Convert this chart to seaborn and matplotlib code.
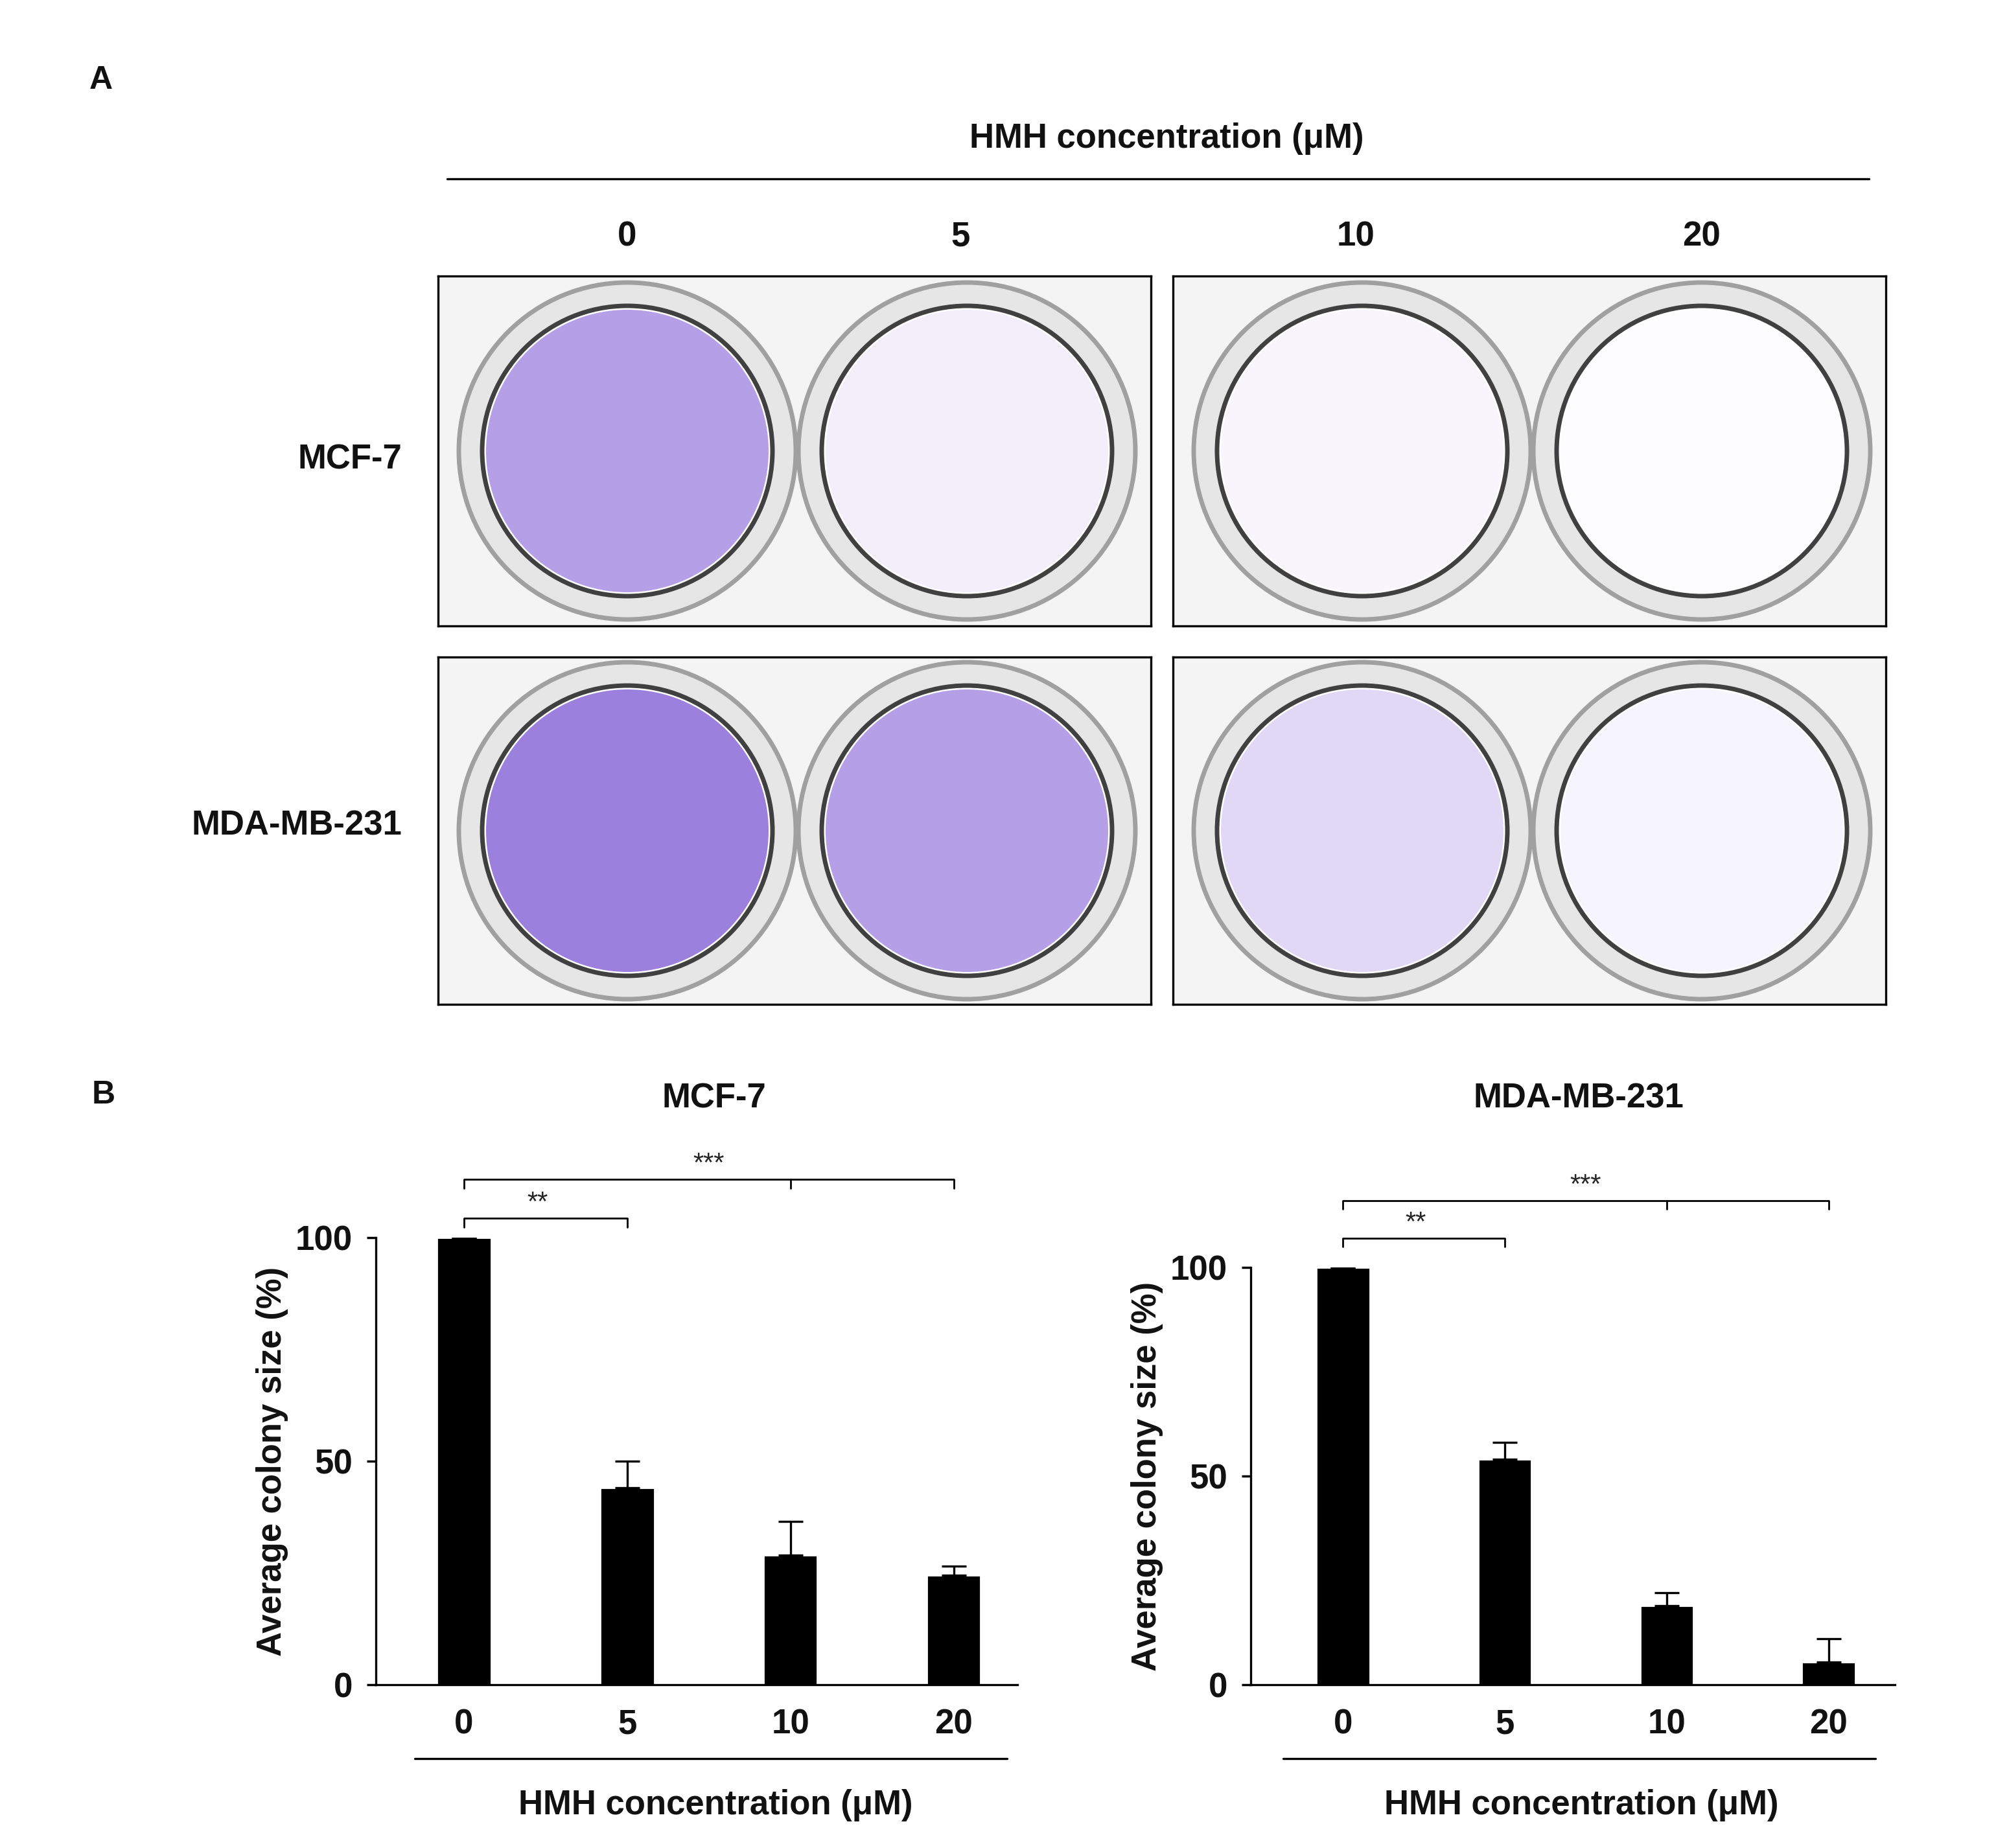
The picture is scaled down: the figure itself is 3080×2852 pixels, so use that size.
import matplotlib
matplotlib.use("Agg")
import matplotlib.pyplot as plt
import seaborn as sns
import pandas as pd
from matplotlib.patches import Circle

sns.set_theme(style="white")
plt.rcParams['font.family'] = ['Arial', 'Liberation Sans', 'DejaVu Sans']

conc = ["0", "5", "10", "20"]
mcf7_mean = [100, 44, 29, 24.5]
mcf7_err = [0, 6, 7.5, 2]
mda_mean = [100, 54, 19, 5.5]
mda_err = [0, 4, 3, 5.5]
# relative stain intensity in the photographed wells (panel A)
mcf7_stain = [0.45, 0.08, 0.04, 0.01]
mda_stain = [0.6, 0.45, 0.18, 0.05]

W, H = 1540, 1426
fig = plt.figure(figsize=(15.4, 14.26), dpi=200)

def fx(x): return x / W
def fy(y): return 1 - y / H

def txt(x, y, s, size=18, ha="center", **kw):
    fig.text(fx(x), fy(y), s, ha=ha, va="center", fontsize=size, fontweight="bold", color="#111111", **kw)

# ---- Panel A ----
txt(78, 62, "A", 18)
txt(900, 107, "HMH concentration (μM)", 19)
fig.add_artist(plt.Line2D([fx(345), fx(1442)], [fy(138), fy(138)], color="black", lw=1.2))
for x, s in zip([484, 741, 1046, 1313], conc):
    txt(x, 183, s, 19)
txt(310, 355, "MCF-7", 19, ha="right")
txt(310, 637, "MDA-MB-231", 19, ha="right")

frames = [(338, 888, 213, 483), (905, 1455, 213, 483), (338, 888, 507, 775), (905, 1455, 507, 775)]
stains = [mcf7_stain[:2], mcf7_stain[2:], mda_stain[:2], mda_stain[2:]]
for (x0, x1, y0, y1), st in zip(frames, stains):
    ax = fig.add_axes([fx(x0), fy(y1), fx(x1 - x0), (y1 - y0) / H])
    ax.set_xlim(0, x1 - x0); ax.set_ylim(0, y1 - y0)
    ax.set_facecolor("#f4f4f4")
    ax.set_xticks([]); ax.set_yticks([])
    for sp in ax.spines.values():
        sp.set_color("black"); sp.set_linewidth(1.2)
    h = y1 - y0
    for i, s in enumerate(st):
        cx = 146 + i * 262
        ax.add_patch(Circle((cx, h / 2), 130, fc="#e6e6e6", ec="#a0a0a0", lw=2.5))
        ax.add_patch(Circle((cx, h / 2), 112, fc="white", ec="#404040", lw=2.5))
        ax.add_patch(Circle((cx, h / 2), 109, fc="#5b2bc9", alpha=s, ec="none"))

# ---- Panel B ----
txt(80, 845, "B", 18)

def bar_panel(rect, means, errs, brackets, xlim):
    ax = fig.add_axes(rect)
    df = pd.DataFrame({"c": conc, "v": means})
    sns.barplot(data=df, x="c", y="v", order=conc, color="black", width=0.33,
                errorbar=None, ax=ax, saturation=1)
    ax.errorbar(range(4), means, yerr=[[0] * 4, errs], fmt="none", ecolor="black",
                elinewidth=1.2, capsize=7, capthick=1.2)
    ax.set_ylim(0, 100); ax.set_xlim(*xlim)
    ax.set_yticks([0, 50, 100])
    ax.tick_params(axis="both", labelsize=19, length=5, color="black", direction="out",
                   bottom=False, left=True, pad=8, labelcolor="#111111")
    for l in ax.get_xticklabels() + ax.get_yticklabels():
        l.set_fontweight("bold")
    ax.set_xlabel(""); ax.set_ylabel("Average colony size (%)", fontsize=19, fontweight="bold",
                                     labelpad=4, color="#111111")
    sns.despine(ax=ax)
    for sp in ["left", "bottom"]:
        ax.spines[sp].set_color("black"); ax.spines[sp].set_linewidth(1.2)
    (y2, y3) = brackets
    kw = dict(color="black", lw=1, clip_on=False)
    ax.plot([0, 0, 1, 1], [y2 - 2, y2, y2, y2 - 2], **kw)
    ax.text(0.45, y2 + 0.5, "**", ha="center", va="bottom", fontsize=15)
    ax.plot([0, 0, 3, 3], [y3 - 2, y3, y3, y3 - 2], **kw)
    ax.plot([2, 2], [y3, y3 - 2], **kw)
    ax.text(1.5, y3 + 0.5, "***", ha="center", va="bottom", fontsize=15)
    return ax

bar_panel([fx(290), fy(1300), fx(495), 345 / H], mcf7_mean, mcf7_err, (104.3, 113), (-0.54, 3.39))
bar_panel([fx(965), fy(1300), fx(497), 322 / H], mda_mean, mda_err, (107, 116), (-0.57, 3.41))
txt(551, 848, "MCF-7", 19)
txt(1218, 848, "MDA-MB-231", 19)

for x0, x1, xc in [(320, 777, 552), (990, 1447, 1220)]:
    fig.add_artist(plt.Line2D([fx(x0), fx(x1)], [fy(1357), fy(1357)], color="black", lw=1.2))
    txt(xc, 1393, "HMH concentration (μM)", 19)

fig.savefig("out.png", dpi=200, facecolor="white")
